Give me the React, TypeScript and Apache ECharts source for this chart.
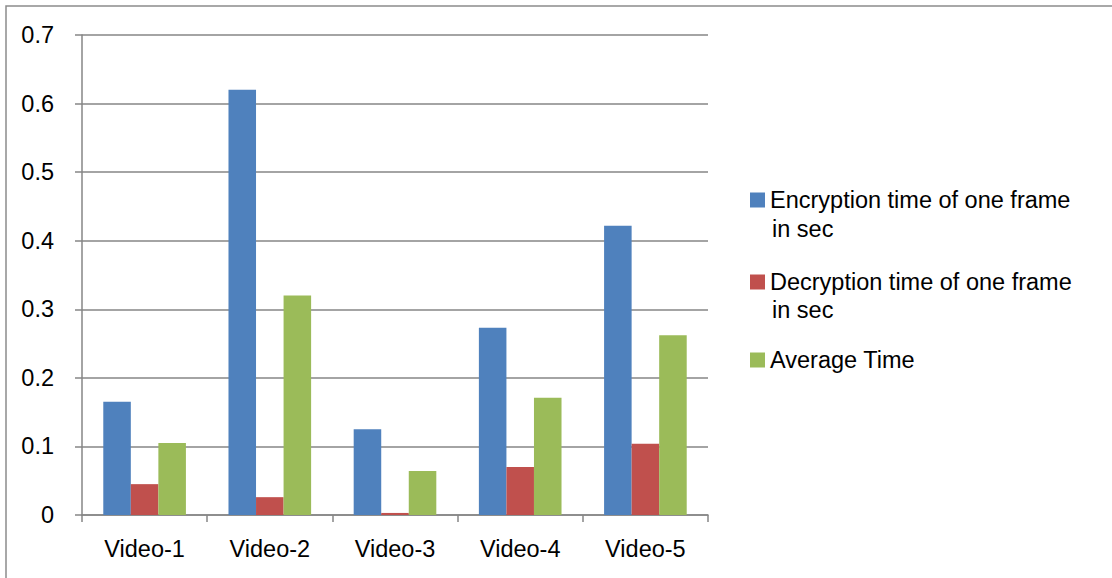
import React, { useEffect, useRef } from "react";
import * as echarts from "echarts";

const categories = ["Video-1", "Video-2", "Video-3", "Video-4", "Video-5"];
const encryption = [0.165, 0.62, 0.125, 0.273, 0.422];
const decryption = [0.045, 0.026, 0.003, 0.07, 0.104];
const average = [0.105, 0.32, 0.064, 0.171, 0.262];
const seriesNames = [
  "Encryption time of one frame in sec",
  "Decryption time of one frame in sec",
  "Average Time",
];
const legendFirstLines = ["Encryption time of one frame", "Decryption time of one frame", "Average Time"];
const legendSecondLines = ["in sec", "in sec", ""];
const colors = ["#4F81BD", "#C0504D", "#9BBB59"];

const FONT = "'Liberation Sans', Arial, sans-serif";
const FS = 23.5;

export default function App() {
  const ref = useRef<HTMLDivElement>(null);
  useEffect(() => {
    document.body.style.margin = "0";
    const chart = echarts.init(ref.current!, undefined, { renderer: "svg" });
    const legendTops = [188, 270, 348];
    const secondLineY = [229, 310];
    const option: any = {
      animation: false,
      backgroundColor: "#ffffff",
      textStyle: { fontFamily: FONT },
      grid: { left: 82, right: 404, top: 35, bottom: 63 },
      xAxis: {
        type: "category",
        data: categories,
        axisLine: { lineStyle: { color: "#868686", width: 1.5 } },
        axisTick: { show: true, length: 7, alignWithLabel: false, lineStyle: { color: "#868686", width: 1.5 } },
        axisLabel: { color: "#000", fontSize: FS, fontFamily: FONT, margin: 22 },
      },
      yAxis: {
        type: "value",
        min: 0,
        max: 0.7,
        interval: 0.1,
        axisLine: { show: true, lineStyle: { color: "#868686", width: 1.5 } },
        axisTick: { show: true, length: 7, lineStyle: { color: "#868686", width: 1.5 } },
        axisLabel: {
          color: "#000",
          fontSize: FS,
          fontFamily: FONT,
          margin: 28,
          formatter: (v: number) => (v === 0 ? "0" : String(Math.round(v * 10) / 10)),
        },
        splitLine: { show: true, lineStyle: { color: "#868686", width: 1.5 } },
      },
      legend: seriesNames.map((n, i) => ({
        data: [n],
        left: 750,
        top: legendTops[i],
        orient: "vertical",
        padding: 0,
        itemWidth: 15,
        itemHeight: 15,
        itemGap: 6,
        icon: "rect",
        formatter: () => legendFirstLines[i],
        textStyle: { color: "#000", fontSize: FS, fontFamily: FONT, lineHeight: 15, padding: [0, 0, 0, 0] },
      })),
      graphic: [
        {
          type: "rect",
          shape: { x: 6, y: 6, width: 1200, height: 700 },
          style: { fill: "none", stroke: "#8c8c8c", lineWidth: 1.5 },
          silent: true,
        },
        ...secondLineY.map((y, i) => ({
          type: "text",
          x: 772,
          y,
          style: {
            text: legendSecondLines[i],
            fill: "#000",
            fontSize: FS,
            fontFamily: FONT,
            textVerticalAlign: "middle",
          },
        })),
      ],
      series: [encryption, decryption, average].map((d, i) => ({
        name: seriesNames[i],
        type: "bar",
        data: d,
        barGap: "0%",
        barCategoryGap: "34%",
        itemStyle: { color: colors[i] },
      })),
    };
    chart.setOption(option);
    return () => chart.dispose();
  }, []);
  return <div ref={ref} style={{ width: 1112, height: 578 }} />;
}
